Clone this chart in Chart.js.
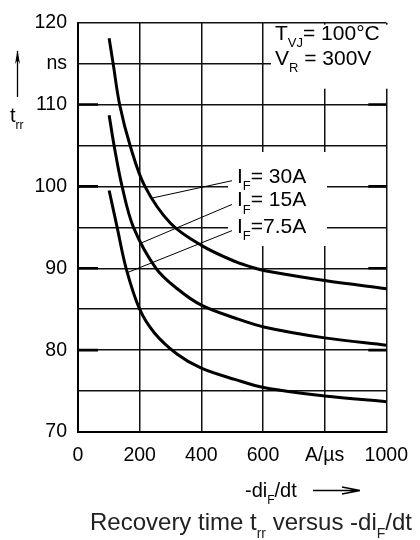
<!DOCTYPE html>
<html>
<head>
<meta charset="utf-8">
<script src="https://cdn.jsdelivr.net/npm/chart.js@4.4.1/dist/chart.umd.min.js"></script>
<style>
  html, body { margin: 0; padding: 0; background: #fff; }
  canvas { display: block; }
</style>
</head>
<body>
<canvas id="trrChart" width="420" height="540"></canvas>
<script>
// -diF/dt (A/us) and trr (ns)
const rate30 = [101, 114, 135, 169, 217, 300, 400, 511, 575, 606, 800, 1000];
const trr30  = [118.1, 115, 110, 105, 100, 95.5, 92.8, 90.8, 90, 89.7, 88.5, 87.5];
const rate15 = [101, 117, 143, 180, 253, 322, 400, 511, 606, 800, 1000];
const trr15  = [108.7, 105, 100, 95, 90, 87.5, 85.5, 83.9, 82.8, 81.5, 80.6];
const rate75 = [101, 127, 156, 200, 248, 322, 400, 511, 606, 800, 1000];
const trr75  = [99.5, 95, 90, 85, 82.1, 79.5, 77.8, 76.4, 75.4, 74.4, 73.7];

const seriesNames = ['30A', '15A', '7.5A'];
const xTicks = [0, 200, 400, 600, 800, 1000];
const xTickLabels = ['0', '200', '400', '600', 'A/\u00b5s', '1000'];
const yMajor = [70, 80, 90, 100, 110, 120];

// where the leader lines touch the curves / leave the labels (data units)
const leaderEnds = [[243, 98.6], [206, 93.1], [162, 89.5]];
const labelRows = [100.7, 97.8, 94.6];

const FONT = "'Liberation Sans', Arial, sans-serif";

function pts(xs, ys) {
  return xs.map((x, i) => ({ x: x, y: ys[i] }));
}

// text with subscripts: parts = [[text, isSub], ...]
function richText(ctx, x, y, parts, size) {
  const sub = Math.round(size * 0.6);
  parts.forEach(([t, isSub]) => {
    ctx.font = (isSub ? sub : size) + 'px ' + FONT;
    ctx.fillText(t, x, isSub ? y + size * 0.34 : y);
    x += ctx.measureText(t).width;
  });
  return x;
}

const annotations = {
  id: 'annotations',
  afterDraw(chart) {
    const { ctx, scales: { x, y }, chartArea: ca } = chart;
    ctx.save();

    // heavier major tick marks on both sides
    ctx.strokeStyle = '#000';
    ctx.lineWidth = 2.6;
    yMajor.slice(1, -1).forEach(v => {
      const py = y.getPixelForValue(v);
      ctx.beginPath();
      ctx.moveTo(ca.left, py); ctx.lineTo(ca.left + 20, py);
      ctx.moveTo(ca.right - 18, py); ctx.lineTo(ca.right, py);
      ctx.stroke();
    });

    // white boxes behind the labels
    ctx.fillStyle = '#fff';
    ctx.fillRect(271, ca.top + 2, 117, 64);
    ctx.fillRect(228, 152, 99, 94);

    ctx.fillStyle = '#000';
    ctx.textBaseline = 'alphabetic';
    ctx.textAlign = 'left';
    richText(ctx, 275, 40, [['T', false], ['VJ', true], ['= 100\u00b0C', false]], 21);
    richText(ctx, 275, 65, [['V', false], ['R', true], [' = 300V', false]], 21);

    // IF labels with leader lines
    ctx.lineWidth = 1;
    seriesNames.forEach((name, i) => {
      const ly = y.getPixelForValue(labelRows[i]);
      const [ex, ey] = leaderEnds[i];
      ctx.beginPath();
      ctx.moveTo(232, ly);
      ctx.lineTo(x.getPixelForValue(ex), y.getPixelForValue(ey));
      ctx.stroke();
      const eq = name.length > 3 ? '=' : '= ';
      richText(ctx, 237, ly + 2, [['I', false], ['F', true], [eq + name, false]], 21);
    });

    // y axis title: arrow + trr
    ctx.lineWidth = 1.3;
    ctx.beginPath();
    ctx.moveTo(17.5, 97); ctx.lineTo(17.5, 51);
    ctx.stroke();
    ctx.beginPath();
    ctx.moveTo(17.5, 50); ctx.lineTo(15, 64); ctx.lineTo(17.5, 60); ctx.lineTo(20, 64);
    ctx.closePath(); ctx.fill();
    richText(ctx, 10, 122, [['t', false], ['rr', true]], 20);

    // x axis title: -diF/dt + arrow
    richText(ctx, 245, 497, [['-di', false], ['F', true], ['/dt', false]], 20);
    ctx.beginPath();
    ctx.moveTo(313, 490.5); ctx.lineTo(359, 490.5);
    ctx.moveTo(360, 490.5); ctx.lineTo(342, 487);
    ctx.moveTo(360, 490.5); ctx.lineTo(342, 494);
    ctx.stroke();

    // caption
    ctx.fillStyle = '#222';
    richText(ctx, 90, 530, [['Recovery time t', false], ['rr', true], [' versus -di', false], ['F', true], ['/dt', false]], 24);
    ctx.restore();
  }
};

const lineStyle = {
  borderColor: '#000',
  borderWidth: 3,
  pointRadius: 0,
  fill: false,
  tension: 0.35
};

new Chart(document.getElementById('trrChart'), {
  type: 'line',
  data: {
    datasets: [
      Object.assign({ label: seriesNames[0], data: pts(rate30, trr30) }, lineStyle),
      Object.assign({ label: seriesNames[1], data: pts(rate15, trr15) }, lineStyle),
      Object.assign({ label: seriesNames[2], data: pts(rate75, trr75) }, lineStyle)
    ]
  },
  options: {
    responsive: false,
    devicePixelRatio: 1,
    animation: false,
    layout: { padding: { top: 16, right: 25, left: 0, bottom: 0 } },
    plugins: {
      legend: { display: false },
      tooltip: { enabled: false }
    },
    scales: {
      x: {
        type: 'linear',
        min: 0,
        max: 1000,
        afterFit: s => { s.height = 108; },
        afterBuildTicks: s => { s.ticks = xTicks.map(v => ({ value: v })); },
        grid: { color: '#111', lineWidth: 1.5, drawTicks: false },
        border: { color: '#000', width: 2 },
        ticks: {
          padding: 12,
          color: '#000',
          maxRotation: 0,
          autoSkip: false,
          font: { family: FONT, size: 19.5 },
          callback: v => xTickLabels[xTicks.indexOf(v)]
        }
      },
      y: {
        min: 70,
        max: 120,
        afterFit: s => { s.width = 78; },
        grid: { color: '#111', lineWidth: 1.5, drawTicks: false },
        border: { color: '#000', width: 2 },
        ticks: {
          stepSize: 5,
          padding: 11,
          color: '#000',
          autoSkip: false,
          font: { family: FONT, size: 19.5 },
          callback: v => yMajor.includes(v) ? String(v) : (v === 115 ? 'ns' : '')
        }
      }
    }
  },
  plugins: [annotations]
});
</script>
</body>
</html>
